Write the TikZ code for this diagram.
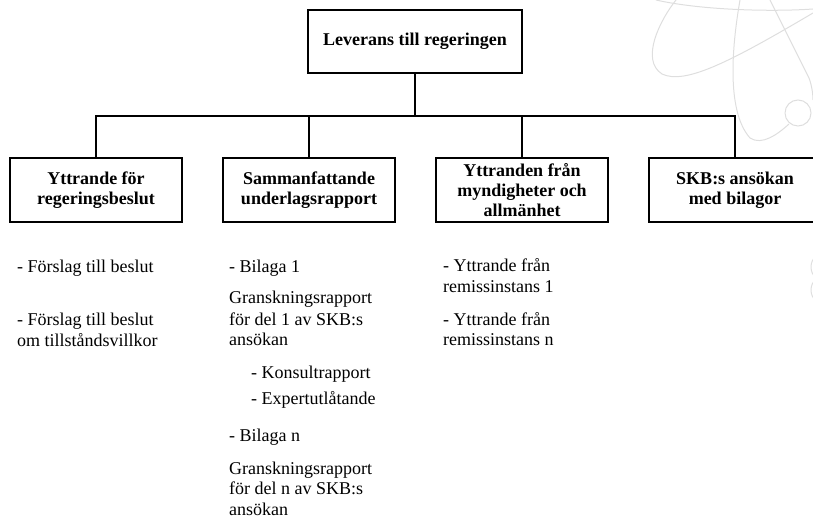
\documentclass[tikz,border=0pt]{standalone}
\usepackage{fontspec}
\setmainfont{Liberation Serif}
\begin{document}
\begin{tikzpicture}[x=1pt,y=-1pt,
  box/.style={draw=black,line width=1.6pt,minimum width=172pt,minimum height=64pt,inner sep=0pt,align=center,font=\bfseries\fontsize{18}{20}\selectfont},
  item/.style={anchor=base west,inner sep=0pt,font=\fontsize{18}{20}\selectfont},
  conn/.style={line width=1.6pt,black},
  wmark/.style={draw=black!13,line width=1pt}]
\useasboundingbox (0,0) rectangle (813,518);
\clip (0,0) rectangle (813,518);
% faint watermark
\draw[wmark] (656,0) .. controls (700,10) and (770,12) .. (813,9);
\draw[wmark] (676,0) .. controls (660,20) and (640,60) .. (662,74) .. controls (685,85) and (730,62) .. (813,13);
\draw[wmark] (740,0) .. controls (733,40) and (725,110) .. (750,138) .. controls (762,146) and (778,134) .. (789,124);
\draw[wmark] (770,0) .. controls (785,30) and (800,60) .. (809,78) .. controls (812,86) and (813,95) .. (813,100);
\draw[wmark] (798,113) circle (13);
\draw[wmark] (826,267) circle (15);
\draw[wmark] (826,290) circle (15);
% boxes
\node[box,minimum width=214pt,minimum height=63pt] (top) at (415,41.5) {Leverans till regeringen};
\node[box] (c1) at (96,190) {Yttrande för\\regeringsbeslut};
\node[box] (c2) at (309,190) {Sammanfattande\\underlagsrapport};
\node[box] (c3) at (522,190) {Yttranden från\\myndigheter och\\allmänhet};
\node[box] (c4) at (735,190) {SKB:s ansökan\\med bilagor};
\coordinate (bus) at (415,116);
\draw[conn] (top.south) -- (bus);
\draw[conn] (c1.north) |- (bus) -| (c4.north);
\draw[conn] (c2.north) -- (c2.north |- bus);
\draw[conn] (c3.north) -- (c3.north |- bus);
% column 1
\node[item] (a1) at (17,273) {- Förslag till beslut};
\node[item] (a2) at (17,326) {- Förslag till beslut};
\node[item] (a3) at (17,346) {om tillståndsvillkor};
% column 2
\node[item] (b1) at (229,273) {- Bilaga 1};
\node[item] (b2) at (229,304) {Granskningsrapport};
\node[item] (b3) at (229,325) {för del 1 av SKB:s};
\node[item] (b4) at (229,345) {ansökan};
\node[item] (b5) at (251,378) {- Konsultrapport};
\node[item] (b6) at (251,404) {- Expertutlåtande};
\node[item] (b7) at (229,441) {- Bilaga n};
\node[item] (b8) at (229,474) {Granskningsrapport};
\node[item] (b9) at (229,494) {för del n av SKB:s};
\node[item] (b10) at (229,515) {ansökan};
% column 3
\node[item] (d1) at (443,272) {- Yttrande från};
\node[item] (d2) at (443,293) {remissinstans 1};
\node[item] (d3) at (443,325) {- Yttrande från};
\node[item] (d4) at (443,345) {remissinstans n};
\end{tikzpicture}
\end{document}
